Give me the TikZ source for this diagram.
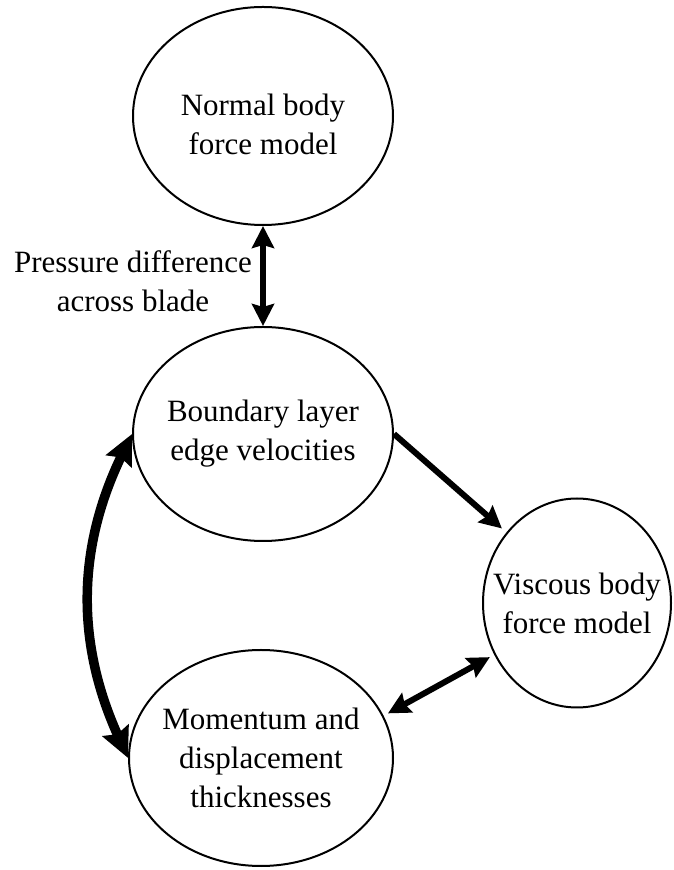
\documentclass[tikz,border=0pt]{standalone}
\usepackage{fontspec}
\setmainfont{Liberation Serif}
\usetikzlibrary{shapes.geometric, arrows.meta}
\begin{document}
\begin{tikzpicture}[x=1pt, y=1pt,
  blob/.style={ellipse, draw, line width=2pt, inner sep=0pt},
  caption/.style={align=center, inner sep=0pt, font=\fontsize{31}{39}\selectfont},
  head/.style={Stealth[length=22pt, width=22pt, inset=3pt]},
  bighead/.style={Stealth[length=30pt, width=28pt, inset=4pt]},
  link/.style={line width=6pt, -{Stealth[length=22pt, width=22pt, inset=3pt]}},
  twoway/.style={line width=6pt, {Stealth[length=22pt, width=22pt, inset=3pt]}-{Stealth[length=22pt, width=22pt, inset=3pt]}},
  loop/.style={line width=9.5pt, {Stealth[length=30pt, width=28pt, inset=4pt]}-{Stealth[length=30pt, width=28pt, inset=4pt]}}
]
\useasboundingbox (0,0) rectangle (674,870);
\fill[white] (0,0) rectangle (674,870);

% four model blocks
\node[blob, minimum width=260pt, minimum height=218pt] (nbf) at (263,754) {};
\node[blob, minimum width=260pt, minimum height=214pt] (ble) at (263,436) {};
\node[blob, minimum width=188pt, minimum height=209pt] (vbf) at (577,267) {};
\node[blob, minimum width=264pt, minimum height=216pt] (mdt) at (261,112) {};

% block texts
\node[caption] (nbft) at ([yshift=-8pt]nbf.center) {Normal body\\force model};
\node[caption] (blet) at (ble.center) {Boundary layer\\edge velocities};
\node[caption] (vbft) at (vbf.center) {Viscous body\\force model};
\node[caption] (mdtt) at (mdt.center) {Momentum and\\displacement\\thicknesses};

% label of the pressure coupling
\node[caption] (pd) at (133,589) {Pressure difference\\across blade};

% couplings
\draw[twoway] (nbf.south) -- (ble.north);
\draw[link, shorten >=6pt] (ble.east) -- (vbf.135);
\draw[twoway, shorten <=5pt, shorten >=5pt] (mdt.19) -- (vbf.212);
\draw[loop] (ble.west) to[bend right=25] (mdt.west);
\end{tikzpicture}
\end{document}
